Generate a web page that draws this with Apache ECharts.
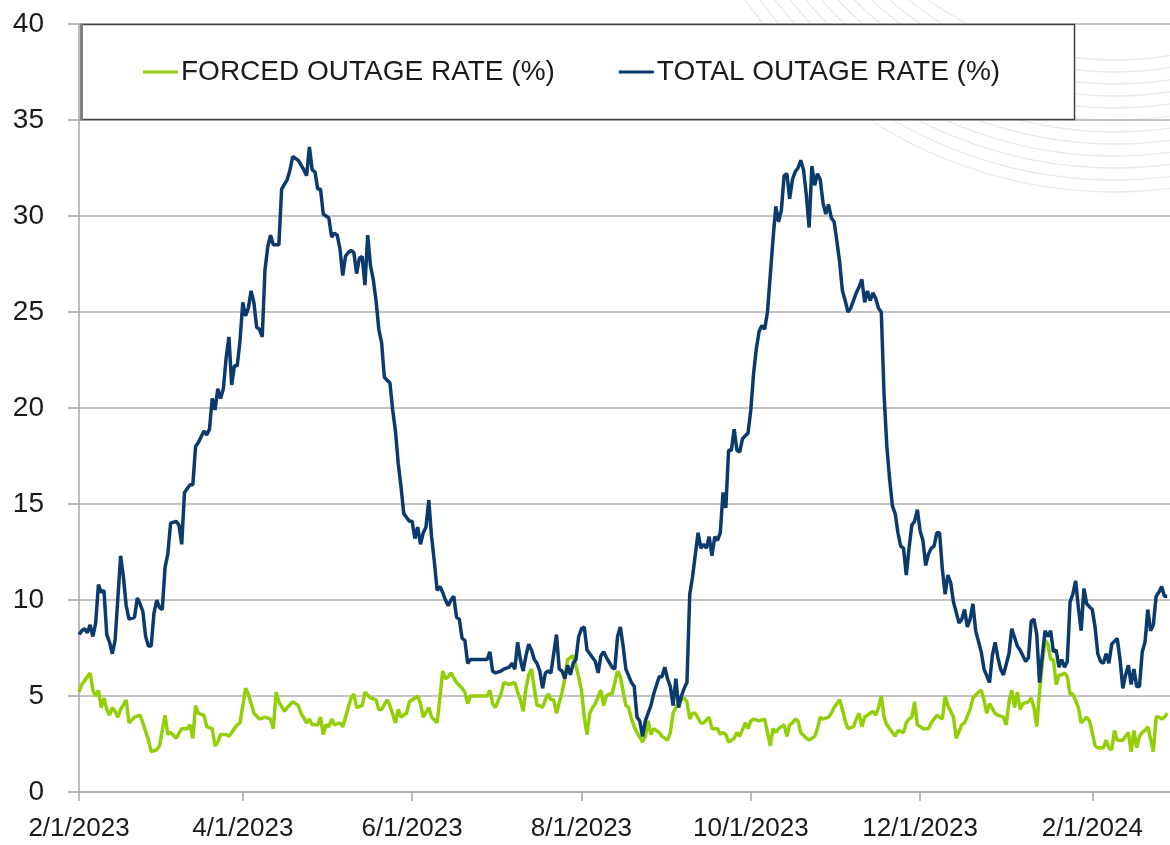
<!DOCTYPE html>
<html>
<head>
<meta charset="utf-8">
<script src="https://cdn.jsdelivr.net/npm/echarts@6/dist/echarts.min.js"></script>
<style>
  html, body { margin: 0; padding: 0; background: #fff; }
  #chart { width: 1170px; height: 845px; }
</style>
</head>
<body>
<div id="chart"></div>
<script>
// days counted from 2/1/2023
const tickDays = [0, 59, 120, 181, 242, 303, 365];
const tickLabels = ['2/1/2023', '4/1/2023', '6/1/2023', '8/1/2023', '10/1/2023', '12/1/2023', '2/1/2024'];

const seriesNames = ['FORCED OUTAGE RATE (%)', 'TOTAL OUTAGE RATE (%)'];

// [day, %]
const forcedRate = [
  [0,5.2],[1,5.6],[2,5.8],[3,6.0],[4,6.2],[5,5.3],[6,5.0],[7,5.3],[8,4.4],[9,4.9],[10,4.3],[11,4.0],[12,4.4],[13,4.2],[14,3.9],
  [15,4.3],[17,4.8],[18,3.6],[20,3.9],[22,4.0],[23,3.6],[25,2.7],[26,2.1],[28,2.2],[29,2.4],[31,4.0],[32,3.0],[33,3.1],[35,2.8],
  [37,3.3],[39,3.3],[40,3.5],[41,2.8],[42,4.5],[43,4.1],[45,4.0],[46,3.4],[48,3.3],[49,2.4],[50,2.6],[51,3.0],[53,3.0],[54,2.9],
  [56,3.3],[57,3.5],[58,3.6],[60,5.4],[61,5.1],[62,4.6],[63,4.1],[65,3.8],[67,3.9],[69,3.8],[70,3.3],[71,5.2],[72,4.7],[74,4.2],
  [75,4.4],[77,4.7],[78,4.6],[79,4.5],[80,4.1],[82,3.6],[83,3.8],[84,3.5],[86,3.5],[87,3.9],[88,3.0],[89,3.5],[90,3.4],[91,3.8],
  [92,3.5],[94,3.6],[95,3.4],[97,4.4],[98,4.9],[99,5.1],[100,4.4],[102,4.5],[103,5.2],[105,4.9],[107,4.8],[108,4.3],[109,4.3],
  [111,4.8],[112,4.5],[114,3.6],[115,4.3],[116,3.9],[118,4.1],[119,4.7],[122,5.0],[123,4.6],[124,3.9],[126,4.4],[127,3.9],
  [129,3.6],[130,4.9],[131,6.3],[132,5.9],[133,6.0],[134,6.2],[136,5.7],[138,5.4],[139,5.2],[140,4.6],[141,5.0],[147,5.0],
  [148,5.3],[149,4.6],[150,4.4],[152,5.1],[153,5.7],[155,5.6],[157,5.7],[158,5.2],[159,4.8],[160,4.2],[161,5.4],[162,6.1],
  [163,6.4],[164,5.4],[165,4.5],[166,4.5],[167,4.4],[168,4.8],[169,5.1],[170,4.8],[171,4.8],[172,4.1],[174,5.2],[175,5.9],
  [176,6.9],[178,7.1],[180,6.0],[181,5.3],[182,3.9],[183,3.0],[184,4.1],[185,4.4],[186,4.6],[188,5.3],[189,4.5],[190,5.0],
  [191,5.1],[192,5.1],[194,6.3],[195,6.0],[197,4.5],[198,4.4],[199,3.8],[200,3.4],[201,3.1],[203,2.6],[204,2.9],[205,3.7],
  [206,3.0],[207,3.3],[209,3.1],[210,2.9],[212,2.7],[213,3.1],[214,4.1],[216,4.7],[218,4.9],[219,4.7],[220,3.8],[221,4.1],
  [222,4.1],[224,3.6],[225,3.6],[227,3.9],[228,3.3],[230,3.3],[231,3.0],[232,3.1],[233,3.0],[234,2.6],[236,2.8],[237,3.1],
  [238,2.9],[240,3.6],[241,3.3],[242,3.7],[243,3.8],[245,3.7],[247,3.8],[248,3.1],[249,2.4],[250,3.3],[251,3.1],[252,3.3],
  [254,3.5],[255,2.9],[256,3.5],[257,3.6],[258,3.8],[259,3.7],[260,3.1],[262,2.8],[263,2.7],[265,2.9],[266,3.3],[267,3.9],
  [268,3.8],[270,3.9],[271,4.1],[272,4.4],[273,4.6],[274,4.8],[275,4.3],[276,3.7],[277,3.3],[279,3.4],[280,3.8],[281,4.1],
  [282,3.4],[283,3.9],[285,4.1],[286,4.2],[287,4.0],[288,4.4],[289,5.0],[290,3.9],[291,3.5],[293,3.1],[294,2.9],[295,3.2],
  [297,3.1],[298,3.6],[299,3.8],[300,3.9],[301,4.7],[302,3.5],[304,3.3],[305,3.3],[306,3.3],[307,3.6],[309,4.0],[310,3.9],
  [311,3.8],[312,5.0],[313,4.5],[315,3.9],[316,2.8],[318,3.5],[319,3.6],[321,4.3],[322,4.9],[324,5.2],[325,5.3],[326,4.8],
  [327,4.1],[328,4.6],[330,4.1],[331,4.0],[333,3.9],[334,3.5],[335,4.7],[336,5.3],[337,4.4],[338,5.2],[339,4.3],[340,4.6],
  [342,4.7],[343,4.9],[344,4.4],[345,3.4],[346,5.2],[347,6.7],[348,7.9],[349,7.7],[350,6.9],[351,6.9],[352,5.6],[353,6.1],
  [354,6.1],[355,6.2],[356,6.0],[357,5.1],[358,5.1],[360,4.4],[361,3.6],[363,3.9],[364,3.7],[365,3.1],[366,2.4],[367,2.3],
  [369,2.3],[370,2.7],[371,2.3],[372,2.2],[373,3.2],[374,2.7],[376,2.7],[377,2.9],[378,3.1],[379,2.1],[380,3.2],[381,2.3],
  [382,2.9],[383,3.1],[384,3.2],[385,3.4],[387,2.1],[388,3.9],[389,3.9],[390,3.8],[391,3.9],[392,4.1]
];

const totalRate = [
  [0,8.2],[1,8.4],[2,8.5],[3,8.3],[4,8.7],[5,8.1],[6,8.8],[7,10.8],[8,10.4],[9,10.5],[10,8.2],[11,7.8],[12,7.2],[13,7.9],
  [14,10.1],[15,12.3],[16,11.2],[17,9.7],[18,9.0],[20,9.1],[21,10.1],[22,9.8],[23,9.4],[24,8.1],[25,7.6],[26,7.6],[27,9.3],
  [28,10.0],[29,9.6],[30,9.5],[31,11.7],[32,12.4],[33,14.0],[35,14.1],[36,13.9],[37,12.9],[38,15.6],[40,16.0],[41,16.0],
  [42,18.0],[43,18.2],[45,18.8],[46,18.6],[47,18.9],[48,20.5],[49,19.9],[50,21.0],[51,20.5],[52,21.0],[53,22.6],[54,23.7],
  [55,21.2],[56,22.2],[57,22.2],[58,23.5],[59,25.5],[60,24.8],[61,25.2],[62,26.1],[63,25.5],[64,24.2],[65,24.1],[66,23.7],
  [67,27.2],[68,28.4],[69,29.0],[70,28.5],[72,28.5],[73,31.4],[75,31.9],[76,32.4],[77,33.1],[79,32.9],[81,32.4],[82,32.1],
  [83,33.6],[84,32.4],[85,32.3],[86,31.4],[87,31.4],[88,30.1],[89,30.0],[90,29.9],[91,28.9],[92,29.1],[93,29.0],[94,28.3],
  [95,26.9],[96,27.9],[97,28.1],[98,28.2],[99,28.1],[100,27.0],[101,27.8],[102,27.9],[103,26.4],[104,29.0],[105,27.4],
  [106,26.7],[107,25.6],[108,24.1],[109,23.4],[110,21.6],[112,21.3],[113,19.9],[114,18.8],[115,17.1],[116,15.9],[117,14.5],
  [119,14.1],[120,14.1],[121,13.2],[122,13.8],[123,12.9],[124,13.5],[125,13.8],[126,15.2],[127,13.3],[128,12.0],[129,10.5],
  [130,10.7],[131,10.4],[132,10.0],[133,9.7],[134,10.0],[135,10.2],[136,9.1],[137,9.0],[138,8.0],[139,7.9],[140,6.7],
  [141,6.9],[147,6.9],[148,7.3],[149,6.3],[150,6.2],[152,6.3],[153,6.4],[155,6.5],[156,6.7],[157,6.4],[158,7.8],[159,6.9],
  [160,6.3],[161,7.1],[162,7.7],[163,7.4],[164,6.9],[165,6.7],[166,6.3],[167,5.4],[168,6.2],[169,6.3],[170,6.2],[172,8.2],
  [173,6.4],[174,6.3],[175,5.9],[176,6.6],[177,6.1],[178,6.7],[179,6.9],[180,8.1],[181,8.5],[182,8.6],[183,7.4],[184,7.2],
  [186,6.8],[187,6.2],[188,7.1],[189,7.3],[190,7.0],[192,6.5],[193,6.4],[194,8.1],[195,8.6],[196,7.6],[197,6.4],[199,5.7],
  [200,5.5],[201,3.9],[202,3.7],[203,2.9],[204,3.7],[206,4.5],[207,5.1],[209,6.0],[210,6.0],[211,6.5],[212,5.9],[213,5.5],
  [214,4.5],[215,5.9],[216,4.4],[217,5.0],[218,5.4],[219,5.7],[220,10.3],[221,11.2],[223,13.5],[224,12.7],[225,12.9],
  [226,12.7],[227,13.3],[228,12.3],[229,13.3],[230,13.1],[231,13.5],[232,15.6],[233,14.8],[234,17.8],[235,17.8],[236,18.9],
  [237,17.8],[238,17.7],[239,18.4],[241,18.7],[242,19.9],[243,21.8],[244,23.1],[245,24.0],[246,24.3],[247,24.1],[248,25.0],
  [249,26.9],[250,28.8],[251,30.5],[252,29.7],[253,30.3],[254,32.1],[255,32.2],[256,30.9],[257,31.9],[258,32.3],[259,32.5],
  [260,32.9],[261,32.4],[262,31.1],[263,29.4],[264,32.6],[265,31.6],[266,32.2],[267,31.9],[268,30.7],[269,30.1],[270,30.6],
  [271,29.9],[272,29.7],[273,28.7],[274,27.6],[275,26.1],[276,25.6],[277,25.0],[278,25.2],[279,25.6],[280,26.0],[281,26.3],
  [282,26.7],[283,25.5],[284,26.1],[285,25.6],[286,26.0],[287,25.7],[288,25.2],[289,25.0],[290,20.7],[291,18.0],[292,16.3],
  [293,14.9],[294,14.5],[295,13.5],[296,12.8],[297,12.7],[298,11.3],[299,12.7],[300,13.9],[301,14.1],[302,14.7],[303,13.6],
  [304,13.1],[305,11.8],[306,12.4],[307,12.7],[308,12.8],[309,13.5],[310,13.5],[311,11.6],[312,10.3],[313,11.3],[314,10.9],
  [315,9.9],[317,8.8],[318,9.0],[319,9.5],[320,8.6],[321,9.0],[322,9.8],[323,8.4],[325,7.3],[326,6.4],[328,5.7],[329,7.1],
  [330,7.8],[331,7.0],[332,6.4],[333,6.1],[335,7.2],[336,8.5],[338,7.6],[339,7.4],[341,6.8],[342,7.0],[343,8.9],[344,9.0],
  [345,8.2],[346,5.7],[347,7.1],[348,8.4],[349,8.1],[350,8.4],[351,7.3],[352,7.4],[353,6.5],[354,6.9],[355,6.5],[356,6.8],
  [357,9.9],[358,10.3],[359,11.0],[360,9.6],[361,8.4],[362,10.6],[363,9.8],[365,9.5],[366,8.6],[367,7.2],[368,6.8],[369,6.7],
  [370,7.2],[371,6.7],[372,7.7],[374,8.0],[375,6.9],[376,5.4],[377,6.1],[378,6.6],[379,5.6],[380,6.4],[381,5.5],[382,5.5],
  [383,7.3],[384,7.8],[385,9.5],[386,8.4],[387,8.7],[388,10.2],[389,10.4],[390,10.7],[391,10.2],[392,10.2]
];

const FONT = "'Liberation Sans', Arial, sans-serif";
const GREEN = '#92cf08';
const NAVY = '#0b3a6d';

// faint ripple lines in the top right corner
const ripples = [];
for (let r = 320; r <= 452; r += 12) {
  ripples.push({
    type: 'circle', z: -1, silent: true,
    shape: { cx: 1115, cy: -260, r: r },
    style: { fill: 'none', stroke: '#e9e9e9', lineWidth: 1.3 }
  });
}

const chart = echarts.init(document.getElementById('chart'), null, { renderer: 'canvas' });

chart.setOption({
  animation: false,
  backgroundColor: '#fff',
  textStyle: { fontFamily: FONT },
  grid: { left: 79, right: 0, top: 24, bottom: 53, containLabel: false },
  graphic: ripples.concat([{
    type: 'rect', z: 1, silent: true,
    shape: { x: 81.5, y: 24.5, width: 993, height: 95 },
    style: { fill: '#fff', stroke: '#404040', lineWidth: 1.5 }
  }, {
    type: 'rect', z: 1, silent: true,
    shape: { x: 80, y: 24, width: 3, height: 96 },
    style: { fill: '#808080' }
  }]),
  legend: {
    left: 143, top: 58, padding: 0, z: 5,
    itemWidth: 35, itemHeight: 3, itemGap: 64,
    icon: 'rect',
    data: seriesNames,
    textStyle: { fontFamily: FONT, fontSize: 28, color: '#1a1a1a', padding: [0, 0, 0, -2] }
  },
  xAxis: {
    type: 'value',
    min: 0, max: 393,
    axisLine: { show: true, onZero: false, lineStyle: { color: '#a6a6a6', width: 1.5 } },
    axisTick: { show: true, customValues: tickDays, length: 9, lineStyle: { color: '#a6a6a6', width: 1.5 } },
    axisLabel: {
      customValues: tickDays,
      formatter: v => tickLabels[tickDays.indexOf(v)],
      fontFamily: FONT, fontSize: 26, color: '#1a1a1a', margin: 24
    },
    splitLine: { show: false }
  },
  yAxis: {
    type: 'value',
    min: 0, max: 40, interval: 5,
    axisLine: { show: true, lineStyle: { color: '#a6a6a6', width: 1.5 } },
    axisTick: { show: true, length: 11, lineStyle: { color: '#a6a6a6', width: 1.5 } },
    axisLabel: { fontFamily: FONT, fontSize: 28, color: '#1a1a1a', margin: 35 },
    splitLine: { show: true, lineStyle: { color: '#b0b0b0', width: 1.5 } }
  },
  series: [
    {
      name: seriesNames[0], type: 'line', data: forcedRate,
      showSymbol: false, symbol: 'none', z: 3,
      itemStyle: { color: GREEN },
      lineStyle: { color: GREEN, width: 3.5 }
    },
    {
      name: seriesNames[1], type: 'line', data: totalRate,
      showSymbol: false, symbol: 'none', z: 3,
      itemStyle: { color: NAVY },
      lineStyle: { color: NAVY, width: 3.5 }
    }
  ]
});
</script>
</body>
</html>
